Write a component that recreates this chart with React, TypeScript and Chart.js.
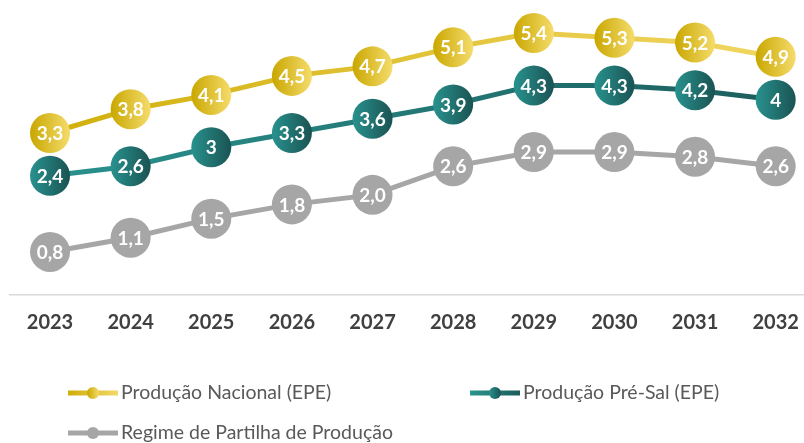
import React, { useEffect, useRef } from "react";
import { Chart, registerables } from "chart.js";

Chart.register(...registerables);

const categories = ["2023", "2024", "2025", "2026", "2027", "2028", "2029", "2030", "2031", "2032"];
const nacional = [3.3, 3.8, 4.1, 4.5, 4.7, 5.1, 5.4, 5.3, 5.2, 4.9];
const preSal = [2.4, 2.6, 3, 3.3, 3.6, 3.9, 4.3, 4.3, 4.2, 4];
const partilha = [0.8, 1.1, 1.5, 1.8, 2.0, 2.6, 2.9, 2.9, 2.8, 2.6];
const labelsNacional = ["3,3", "3,8", "4,1", "4,5", "4,7", "5,1", "5,4", "5,3", "5,2", "4,9"];
const labelsPreSal = ["2,4", "2,6", "3", "3,3", "3,6", "3,9", "4,3", "4,3", "4,2", "4"];
const labelsPartilha = ["0,8", "1,1", "1,5", "1,8", "2,0", "2,6", "2,9", "2,9", "2,8", "2,6"];
const seriesNames = ["Produção Nacional (EPE)", "Produção Pré-Sal (EPE)", "Regime de Partilha de Produção"];

const FONT = "Lato, 'Open Sans', sans-serif";
const R = 20;

type Pal = { lineA: string; lineB: string; ptA: string; ptB: string };
const palettes: Pal[] = [
  { lineA: "#CFAE08", lineB: "#F3D866", ptA: "#C9A700", ptB: "#F5DC6C" },
  { lineA: "#2A9490", lineB: "#1C5C5B", ptA: "#28928E", ptB: "#1A5353" },
  { lineA: "#A6A6A6", lineB: "#A6A6A6", ptA: "#A6A6A6", ptB: "#A6A6A6" },
];

function lineGrad(pal: Pal) {
  return (ctx: any) => {
    const chart = ctx.chart;
    const area = chart.chartArea;
    if (!area || !isFinite(area.left) || !isFinite(area.right) || area.right <= area.left) return pal.lineA;
    const g = chart.ctx.createLinearGradient(area.left, 0, area.right, 0);
    g.addColorStop(0, pal.lineA);
    g.addColorStop(1, pal.lineB);
    return g;
  };
}

function pointGrad(pal: Pal) {
  return (ctx: any) => {
    const chart = ctx.chart;
    const xs = chart.scales && chart.scales.x;
    if (!xs || ctx.dataIndex == null) return pal.ptA;
    const px = xs.getPixelForValue(ctx.dataIndex);
    if (!isFinite(px)) return pal.ptA;
    const g = chart.ctx.createLinearGradient(px - R, 0, px + R, 0);
    g.addColorStop(0, pal.ptA);
    g.addColorStop(1, pal.ptB);
    return g;
  };
}

const allLabels = [labelsNacional, labelsPreSal, labelsPartilha];

const labelPlugin = {
  id: "circleLabels",
  afterDatasetsDraw(chart: any) {
    const c = chart.ctx;
    c.save();
    c.fillStyle = "#FFFFFF";
    c.font = `bold 19px ${FONT}`;
    c.textAlign = "center";
    c.textBaseline = "middle";
    chart.data.datasets.forEach((ds: any, di: number) => {
      const meta = chart.getDatasetMeta(di);
      meta.data.forEach((pt: any, i: number) => {
        c.fillText(allLabels[di][i], pt.x, pt.y + 1);
      });
    });
    c.restore();
  },
};

const legendPos = [
  { x: 68, y: 393 },
  { x: 470, y: 393 },
  { x: 68, y: 433 },
];

const legendPlugin = {
  id: "customLegend",
  afterDraw(chart: any) {
    const c = chart.ctx;
    c.save();
    chart.data.datasets.forEach((ds: any, di: number) => {
      const p = legendPos[di];
      const pal = palettes[di];
      const g = c.createLinearGradient(p.x, 0, p.x + 50, 0);
      g.addColorStop(0, pal.lineA);
      g.addColorStop(1, pal.lineB);
      c.strokeStyle = g;
      c.lineWidth = 5;
      c.lineCap = "butt";
      c.beginPath();
      c.moveTo(p.x, p.y);
      c.lineTo(p.x + 50, p.y);
      c.stroke();
      const gp = c.createLinearGradient(p.x + 19, 0, p.x + 31, 0);
      gp.addColorStop(0, pal.ptA);
      gp.addColorStop(1, pal.ptB);
      c.fillStyle = gp;
      c.beginPath();
      c.arc(p.x + 25, p.y, 6, 0, Math.PI * 2);
      c.fill();
      c.fillStyle = "#595959";
      c.font = `19.5px ${FONT}`;
      c.textAlign = "left";
      c.textBaseline = "middle";
      c.fillText(ds.label, p.x + 53, p.y);
    });
    c.restore();
  },
};

export default function App() {
  const ref = useRef<HTMLCanvasElement>(null);
  useEffect(() => {
    document.body.style.margin = "0";
    const values = [nacional, preSal, partilha];
    const chart = new Chart(ref.current!, {
      type: "line",
      data: {
        labels: categories,
        datasets: values.map((v, i) => ({
          label: seriesNames[i],
          data: v,
          borderColor: lineGrad(palettes[i]),
          borderWidth: 5,
          pointRadius: R,
          pointHoverRadius: R,
          pointBorderWidth: 0,
          pointBackgroundColor: pointGrad(palettes[i]),
          tension: 0,
          clip: false as any,
        })),
      },
      options: {
        responsive: false,
        animation: false,
        events: [],
        layout: { autoPadding: false, padding: { left: 9.7, right: 0, top: 4.5, bottom: 108.2 } },
        plugins: { legend: { display: false }, tooltip: { enabled: false } },
        scales: {
          x: {
            offset: true,
            grid: { display: false, drawTicks: true, tickLength: 16 },
            border: { display: true, color: "#D9D9D9", width: 1.5 },
            ticks: {
              padding: 0,
              color: "#404040",
              font: { family: FONT, size: 20, weight: "bold" },
            },
            afterFit: (scale: any) => {
              scale.height = 40;
            },
          },
          y: {
            display: false,
            min: -0.1,
            max: 6,
          },
        },
      },
      plugins: [labelPlugin, legendPlugin],
    });
    return () => chart.destroy();
  }, []);
  return (
    <div style={{ position: "fixed", left: 0, top: 0, width: 804, height: 443, overflow: "hidden", background: "#fff" }}>
      <canvas ref={ref} width={816} height={443} style={{ width: 816, height: 443, display: "block" }} />
    </div>
  );
}
